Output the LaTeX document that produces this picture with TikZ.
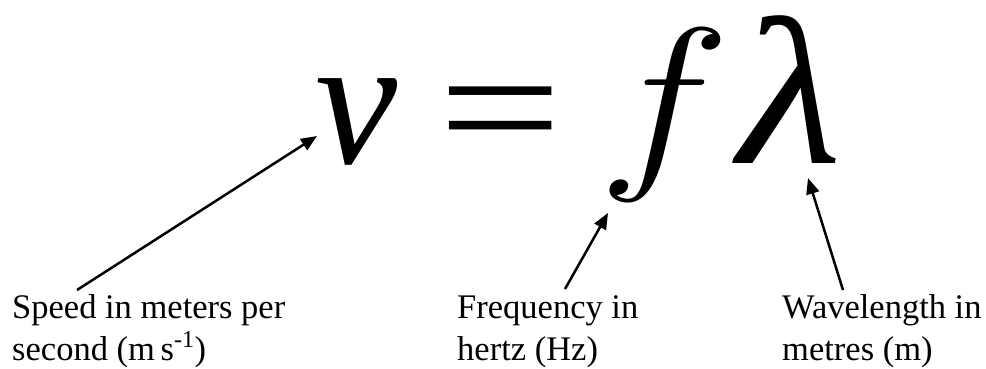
\documentclass[tikz,border=0pt]{standalone}
\usepackage{fix-cm}
\usepackage{graphicx}
\usepackage{fontspec}
\setmainfont{Liberation Serif}
\usetikzlibrary{arrows.meta}
\tikzset{
  glyph/.style={inner sep=0pt, anchor=base, font=\fontsize{185}{185}\selectfont\itshape},
  glyphlam/.style={inner sep=0pt, anchor=base, font=\fontsize{210}{210}\selectfont\itshape},
  glyphup/.style={inner sep=0pt, anchor=base, font=\fontsize{200}{200}\selectfont},
  glyphm/.style={inner sep=0pt, anchor=base, font=\fontsize{200}{200}\selectfont},
  label/.style={inner sep=0pt, anchor=base west, align=left, font=\fontsize{34.5}{42}\selectfont},
  pointer/.style={line width=2.5pt, -{Triangle[length=16pt,width=13pt]}}
}
\begin{document}
\begin{tikzpicture}[x=1pt,y=-1pt]
\useasboundingbox (0,0) rectangle (986,368);
\node[glyph] (v) at (357,163) {v};
\node[glyphup] (eq) at (501,165) {\scalebox{1.1}[0.86]{=}};
\node[glyphm] (f) at (665,163) {\scalebox{1.12}[0.97]{$f$}};
\node[glyphlam] (lam) at (790,163) {\scalebox{1.14}[1]{λ}};
\node[label] (l1) at (12,360) {Speed in meters per\\second (m\,s\textsuperscript{-1})};
\node[label] (l2) at (457,360) {Frequency in\\hertz (Hz)};
\node[label] (l3) at (782,360) {Wavelength in\\metres (m)};
\coordinate (t1) at (77,290);
\coordinate (h1) at (317,136);
\coordinate (t2) at (565,289);
\coordinate (h2) at (608,213);
\coordinate (t3) at (843,290);
\coordinate (h3) at (808,178);
\draw[pointer] (t1) -- (h1);
\draw[pointer] (t2) -- (h2);
\draw[pointer] (t3) -- (h3);
\end{tikzpicture}
\end{document}
